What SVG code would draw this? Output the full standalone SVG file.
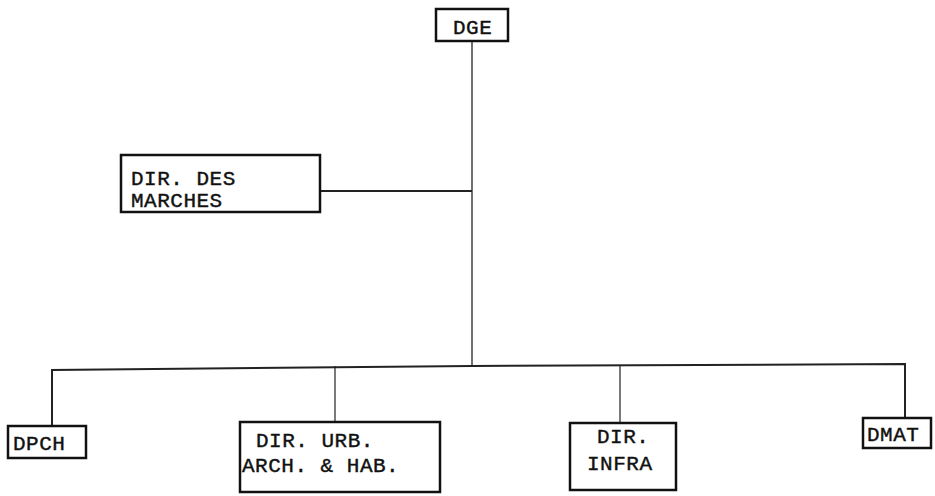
<svg xmlns="http://www.w3.org/2000/svg" width="935" height="496" viewBox="0 0 935 496">
<style>
.box{fill:#fff;stroke:#111;stroke-width:2.5}
.t{font-family:"Liberation Mono","DejaVu Sans Mono",monospace;font-size:21px;fill:#111;stroke:#111;stroke-width:0.4;letter-spacing:0.5px}
.c{stroke:#222;fill:none}
</style>
<rect width="935" height="496" fill="#fff"/>
<g id="connectors">
<line class="c" x1="472" y1="42" x2="472" y2="367" stroke-width="1.3"/>
<line class="c" x1="320" y1="191" x2="472" y2="191" stroke-width="2.2"/>
<polyline class="c" points="52,426 52,370 472,366 905,364 905,418" stroke-width="2"/>
<line class="c" x1="335" y1="366" x2="335" y2="422" stroke-width="1.2"/>
<line class="c" x1="620" y1="365" x2="620" y2="423" stroke-width="1.2"/>
</g>
<g id="dge"><rect class="box" x="436" y="9" width="72" height="32"/><text class="t" x="453" y="34">DGE</text></g>
<g id="dir-marches"><rect class="box" x="121" y="155" width="199" height="57"/><text class="t" x="131" y="185">DIR. DES</text><text class="t" x="131" y="207">MARCHES</text></g>
<g id="dpch"><rect class="box" x="8" y="426" width="78" height="32"/><text class="t" x="13" y="450">DPCH</text></g>
<g id="dir-urb"><rect class="box" x="240" y="422" width="200" height="70"/><text class="t" x="256" y="447">DIR. URB.</text><text class="t" x="242" y="472">ARCH. &amp; HAB.</text></g>
<g id="dir-infra"><rect class="box" x="570" y="423" width="106" height="67"/><text class="t" x="597" y="443">DIR.</text><text class="t" x="587" y="470">INFRA</text></g>
<g id="dmat"><rect class="box" x="863" y="418" width="68" height="30"/><text class="t" x="867" y="441">DMAT</text></g>
</svg>
